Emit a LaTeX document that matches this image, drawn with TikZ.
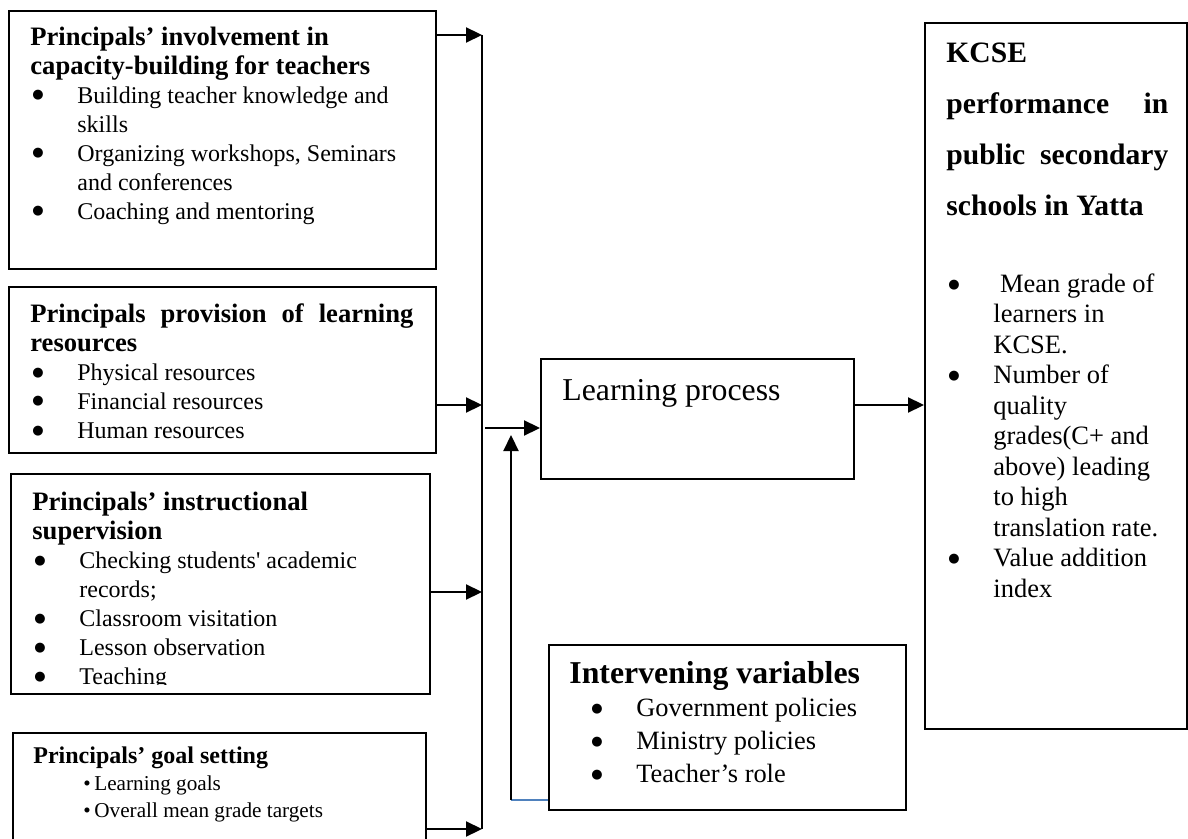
\documentclass[tikz,border=0pt]{standalone}
\usepackage{fontspec}
\setmainfont{Liberation Serif}
\newfontfamily\symfont{DejaVu Sans}
\usetikzlibrary{arrows.meta}
\newcommand{\tp}{\rule{0pt}{14pt}}
\newcommand{\hd}[1]{{\fontsize{13.3}{14.5}\selectfont\bfseries #1}}
\newcommand{\bigdot}{\raisebox{2.2pt}{\symfont\fontsize{6.5}{7}\selectfont ●}}
\newcommand{\itm}[1]{\makebox[23.5pt][l]{\hspace{1pt}\bigdot}#1}
\newcommand{\cnt}[1]{\hspace*{23.5pt}#1}
\newcommand{\smallitm}[1]{\hspace*{25pt}\makebox[5.5pt][l]{\textbullet}#1}
\definecolor{wordblue}{RGB}{79,129,189}
\tikzset{%
	>={Triangle[width=7.5pt,length=8pt]},
	% Specifications for style of boxes and texts:
	base/.style = {rectangle, draw=black, line width=1pt,
		inner sep=0pt, anchor=north west},
	textblock/.style = {inner sep=0pt, anchor=north west, align=left},
	link/.style = {line width=1.1pt},
	blueline/.style = {draw=wordblue, line width=0.8pt},
}
\begin{document}
\begin{tikzpicture}[x=0.5pt, y=-0.5pt]
		\useasboundingbox (0,0) rectangle (1188,839);
		% Specification of boxes (position, size)
		\node (capBox)   [base, minimum width=213.5pt, minimum height=129pt] at (8,10) {};
		\node (resBox)   [base, minimum width=213.5pt, minimum height=83pt] at (8,286) {};
		\node (supBox)   [base, minimum width=209.5pt, minimum height=110pt] at (10,473) {};
		\node (goalBox)  [base, minimum width=206.5pt, minimum height=56.5pt] at (12,732) {};
		\node (learnBox) [base, minimum width=156.5pt, minimum height=60pt] at (540,358) {};
		\node (ivBox)    [base, minimum width=178.5pt, minimum height=82.5pt] at (548,644) {};
		\node (kcseBox)  [base, minimum width=131pt, minimum height=353pt] at (924,22) {};
		% Texts of the boxes
		\node (capText) [textblock, font=\fontsize{12}{14.5}\selectfont] at (30,17)
			{\tp\hd{Principals’ involvement in}\\ \hd{capacity-building for teachers}\\
			\itm{Building teacher knowledge and}\\ \cnt{skills}\\
			\itm{Organizing workshops, Seminars}\\ \cnt{and conferences}\\
			\itm{Coaching and mentoring}};
		\node (resText) [textblock, font=\fontsize{12}{14.5}\selectfont] at (30,294)
			{\tp\hd{\makebox[191.5pt][s]{Principals provision of learning}}\\ \hd{resources}\\
			\itm{Physical resources}\\ \itm{Financial resources}\\ \itm{Human resources}};
		\begin{scope}
			\clip (supBox.north west) rectangle ([yshift=5.5pt]supBox.south east);
			\node (supText) [textblock, font=\fontsize{12}{14.5}\selectfont] at (32,482)
				{\tp\hd{Principals’ instructional}\\ \hd{supervision}\\
				\itm{Checking students\textquotesingle{} academic}\\ \cnt{records;}\\
				\itm{Classroom visitation}\\ \itm{Lesson observation}\\ \itm{Teaching}};
		\end{scope}
		\node (goalText) [textblock, font=\fontsize{10.6}{13.5}\selectfont] at (33,735)
			{\tp{\fontsize{12}{13.5}\selectfont\bfseries Principals’ goal setting}\\
			\smallitm{Learning goals}\\ \smallitm{Overall mean grade targets}};
		\node (learnText) [textblock, font=\fontsize{15.9}{18}\selectfont] at (562,372)
			{\tp Learning process};
		\node (ivText) [textblock, font=\fontsize{13.2}{16.5}\selectfont] at (569,655)
			{\tp{\fontsize{15.9}{16.5}\selectfont\bfseries Intervening variables}\\
			\hspace*{10pt}\itm{Government policies}\\ \hspace*{10pt}\itm{Ministry policies}\\
			\hspace*{10pt}\itm{Teacher’s role}};
		\node (kcseHead) [textblock, font=\fontsize{14.8}{25.5}\selectfont\bfseries] at (946,34)
			{\tp KCSE\\ \makebox[111pt][s]{performance in}\\
			\makebox[111pt][s]{public secondary}\\ schools in Yatta};
		\node (kcseList) [textblock, font=\fontsize{13.25}{15.25}\selectfont] at (946,264)
			{\tp\itm{\ Mean grade of}\\ \cnt{learners in}\\ \cnt{KCSE.}\\
			\itm{Number of}\\ \cnt{quality}\\ \cnt{grades(C+ and}\\ \cnt{above) leading}\\
			\cnt{to high}\\ \cnt{translation rate.}\\ \itm{Value addition}\\ \cnt{index}};
		% Connectors
		\coordinate (busTop) at (482,35);
		\coordinate (busRes) at (482,405);
		\coordinate (busSup) at (482,592);
		\coordinate (busBottom) at (482,829);
		\coordinate (busOut) at (485,428);
		\coordinate (kcseIn) at (kcseBox.west |- 0,405);
		\coordinate (ivFoot) at (511,800);
		\coordinate (ivTip) at (511,435);
		\draw[link]      (busTop) -- (busBottom);
		\draw[link,->]   (capBox.east |- busTop) -- (busTop);
		\draw[link,->]   (resBox.east |- busRes) -- (busRes);
		\draw[link,->]   (supBox.east |- busSup) -- (busSup);
		\draw[link,->]   (goalBox.east |- busBottom) -- (busBottom);
		\draw[link,->]   (busOut) -- (busOut -| learnBox.west);
		\draw[link,->]   (learnBox.east |- kcseIn) -- (kcseIn);
		\draw[blueline]  (ivBox.west |- ivFoot) -- (ivFoot);
		\draw[link,->]   (ivFoot) -- (ivTip);
	\end{tikzpicture}
\end{document}
